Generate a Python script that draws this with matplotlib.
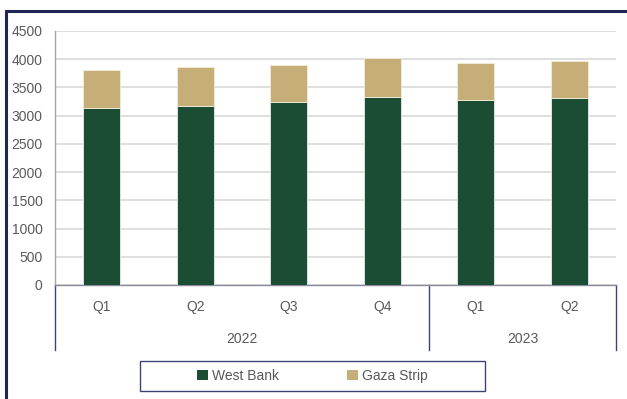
import matplotlib
matplotlib.use("Agg")
import matplotlib.pyplot as plt
from matplotlib.patches import Rectangle, Patch
import matplotlib.transforms as mtransforms
import numpy as np

plt.rcParams['font.family'] = ['Liberation Sans', 'DejaVu Sans']

quarters = ["Q1", "Q2", "Q3", "Q4", "Q1", "Q2"]
years = ["2022", "2023"]
year_spans = [(0, 3), (4, 5)]
west_bank = [3140, 3170, 3240, 3330, 3275, 3320]
gaza_strip = [670, 690, 665, 690, 660, 645]
yticks = [0, 500, 1000, 1500, 2000, 2500, 3000, 3500, 4000, 4500]

W, H = 627, 399
fig = plt.figure(figsize=(W / 100, H / 100), dpi=100)
ax = fig.add_axes([55 / W, (H - 285) / H, (616 - 55) / W, (285 - 31) / H])

green = "#1b4d35"
tan = "#c5ae78"
text_c = "#595959"
navy = "#3c4378"
fs = 10

x = np.arange(len(quarters))
ax.bar(x, west_bank, width=0.4, color=green, edgecolor="#e8efe8", linewidth=0.6, zorder=3, label="West Bank")
ax.bar(x, gaza_strip, width=0.4, bottom=west_bank, color=tan, edgecolor="#f3ecd8", linewidth=0.6, zorder=3, label="Gaza Strip")

ax.set_xlim(-0.5, len(quarters) - 0.5)
ax.set_ylim(0, 4500)
ax.set_yticks(yticks)
ax.set_yticklabels([str(v) for v in yticks], color=text_c, fontsize=fs)
ax.yaxis.grid(True, color="#d9d9d9", linewidth=1.2, zorder=0)
ax.set_axisbelow(True)
ax.tick_params(axis='y', length=0, pad=9)
ax.set_xticks(x)
ax.set_xticklabels(quarters, color=text_c, fontsize=fs)
ax.tick_params(axis='x', length=0, pad=11)

for s in ["top", "right"]:
    ax.spines[s].set_visible(False)
ax.spines["left"].set_color("#a6a6a6")
ax.spines["bottom"].set_color("#8c8c99")
ax.spines["left"].set_linewidth(1)
ax.spines["bottom"].set_linewidth(1)

trans = mtransforms.blended_transform_factory(ax.transData, ax.transAxes)
depth = (350 - 285) / (285 - 31)
for xs in [-0.5, 3.5, 5.5]:
    ax.plot([xs, xs], [0, -depth], transform=trans, color=navy, linewidth=1, clip_on=False)

ylab = -(339 - 285) / (285 - 31)
for yr, (a, b) in zip(years, year_spans):
    ax.text((a + b) / 2, ylab, yr, transform=trans, ha="center", va="center", color=text_c, fontsize=fs)

handles = [Patch(facecolor=green, label="West Bank"), Patch(facecolor=tan, label="Gaza Strip")]
leg = fig.legend(handles=handles, loc="center", bbox_to_anchor=((140 + 485) / 2 / W, 1 - 376 / H),
                 ncol=2, frameon=False, fontsize=fs, handlelength=0.8, handleheight=0.8,
                 handletextpad=0.3, columnspacing=4.9, borderaxespad=0, labelcolor=text_c)

fig.add_artist(Rectangle((140 / W, 1 - 391 / H), (485 - 140) / W, (391 - 361) / H,
                         transform=fig.transFigure, fill=False, edgecolor=navy, linewidth=1))

fig.add_artist(Rectangle((6 / W, -0.05), 1.1, 1 - 10.5 / H + 0.05, transform=fig.transFigure,
                         fill=False, edgecolor="#1f2555", linewidth=2.2, clip_on=False))

fig.savefig("out.png", dpi=100)
